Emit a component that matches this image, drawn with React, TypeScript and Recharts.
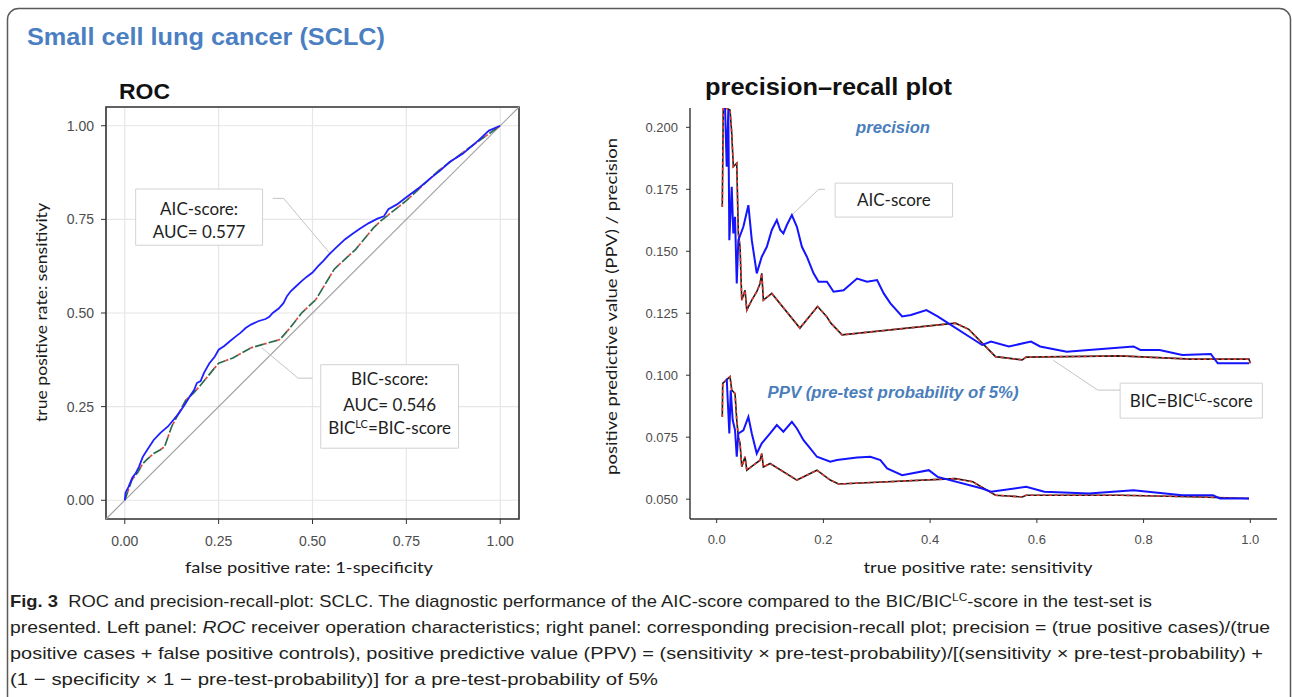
import React from 'react';
import { LineChart, Line, XAxis, YAxis, CartesianGrid, ReferenceLine, ReferenceArea } from 'recharts';

type P = [number, number];

// ---------- ROC panel ----------
const rocTicks = [0, 0.25, 0.5, 0.75, 1];
const aicRoc: P[] = [
  [0, 0], [0.002, 0.02], [0.01, 0.036], [0.02, 0.06], [0.029, 0.072], [0.038, 0.09], [0.048, 0.116],
  [0.06, 0.135], [0.077, 0.161], [0.095, 0.18], [0.115, 0.197], [0.13, 0.215], [0.144, 0.232],
  [0.16, 0.256], [0.173, 0.277], [0.185, 0.295], [0.192, 0.313], [0.202, 0.318], [0.211, 0.34],
  [0.225, 0.365], [0.24, 0.384], [0.25, 0.402], [0.265, 0.412], [0.279, 0.424], [0.295, 0.437],
  [0.308, 0.447], [0.322, 0.46], [0.336, 0.469], [0.355, 0.478], [0.375, 0.484], [0.385, 0.49],
  [0.394, 0.5], [0.41, 0.512], [0.423, 0.527], [0.432, 0.545], [0.442, 0.558], [0.457, 0.572],
  [0.471, 0.585], [0.485, 0.597], [0.5, 0.608], [0.515, 0.625], [0.529, 0.639], [0.543, 0.655],
  [0.558, 0.67], [0.572, 0.683], [0.587, 0.697], [0.605, 0.71], [0.625, 0.724], [0.65, 0.74],
  [0.673, 0.752], [0.69, 0.758], [0.702, 0.777], [0.725, 0.79], [0.75, 0.809], [0.785, 0.835],
  [0.817, 0.862], [0.84, 0.88], [0.865, 0.903], [0.9, 0.925], [0.942, 0.961], [0.97, 0.987], [1, 1],
];
const bicRoc: P[] = [
  [0, 0], [0.019, 0.054], [0.035, 0.075], [0.048, 0.098], [0.06, 0.11], [0.077, 0.125], [0.095, 0.135],
  [0.106, 0.143], [0.125, 0.197], [0.145, 0.235], [0.163, 0.268], [0.183, 0.286], [0.2, 0.305],
  [0.221, 0.331], [0.25, 0.366], [0.288, 0.38], [0.336, 0.407], [0.413, 0.429], [0.44, 0.46],
  [0.471, 0.5], [0.509, 0.536], [0.558, 0.617], [0.615, 0.67], [0.663, 0.728], [0.682, 0.746],
  [0.75, 0.8], [0.836, 0.88], [0.913, 0.938], [1, 1],
];

// ---------- precision-recall panel ----------
const prXTicks = [0, 0.2, 0.4, 0.6, 0.8, 1];
const prYTicks = [0.05, 0.075, 0.1, 0.125, 0.15, 0.175, 0.2];
const aicPrecision: P[] = [
  [0.0156, 0.2083], [0.0188, 0.1841], [0.0218, 0.207], [0.0237, 0.1545], [0.0282, 0.176], [0.0312, 0.1572],
  [0.0344, 0.1639], [0.0376, 0.137], [0.0406, 0.1545], [0.05, 0.1599], [0.0594, 0.1686], [0.0658, 0.1545],
  [0.0751, 0.1411], [0.0845, 0.1478], [0.094, 0.1518], [0.1033, 0.1586], [0.1127, 0.1626], [0.119, 0.1586],
  [0.125, 0.1572], [0.1315, 0.1606], [0.1409, 0.1646], [0.1503, 0.1599], [0.1597, 0.1518], [0.169, 0.1478],
  [0.1815, 0.1411], [0.1909, 0.1377], [0.2066, 0.1377], [0.219, 0.1337], [0.2378, 0.1343], [0.263, 0.139],
  [0.2818, 0.1377], [0.3006, 0.1384], [0.313, 0.133], [0.3256, 0.129], [0.3475, 0.1237], [0.364, 0.1243],
  [0.393, 0.1263], [0.414, 0.1237], [0.4975, 0.1122], [0.514, 0.1136], [0.5475, 0.1116], [0.589, 0.1136],
  [0.606, 0.1116], [0.656, 0.1095], [0.6975, 0.1102], [0.781, 0.1116], [0.794, 0.1102], [0.83, 0.1102],
  [0.8725, 0.1082], [0.926, 0.1086], [0.939, 0.1048], [0.9975, 0.1048],
];
const bicPrecision: P[] = [
  [0.0105, 0.168], [0.0124, 0.2083], [0.025, 0.207], [0.0282, 0.1976], [0.0312, 0.1841], [0.0376, 0.1855],
  [0.0406, 0.1572], [0.0438, 0.1518], [0.047, 0.1303], [0.0532, 0.1343], [0.0564, 0.1263], [0.0658, 0.1303],
  [0.0751, 0.1337], [0.0813, 0.137], [0.0845, 0.1411], [0.0875, 0.1303], [0.1033, 0.133], [0.156, 0.119],
  [0.189, 0.1277], [0.206, 0.1237], [0.214, 0.121], [0.235, 0.1163], [0.4475, 0.121], [0.4725, 0.1185],
  [0.5225, 0.1075], [0.5725, 0.1062], [0.58, 0.1073], [0.756, 0.1078], [0.889, 0.1065], [0.9975, 0.1065],
  [1, 0.1048],
];
const aicPpv: P[] = [
  [0.0188, 0.0987], [0.0237, 0.0765], [0.0263, 0.0939], [0.03, 0.0819], [0.0344, 0.0778], [0.0376, 0.0671],
  [0.0406, 0.0765], [0.05, 0.0778], [0.0594, 0.0832], [0.0658, 0.0765], [0.0751, 0.0684], [0.0845, 0.0725],
  [0.1001, 0.0765], [0.1127, 0.0799], [0.125, 0.0772], [0.1409, 0.0812], [0.1503, 0.0785], [0.1627, 0.0738],
  [0.1753, 0.0705], [0.1879, 0.0671], [0.2128, 0.0651], [0.2254, 0.0658], [0.263, 0.0668], [0.288, 0.0671],
  [0.3068, 0.0658], [0.3194, 0.0624], [0.3475, 0.0597], [0.3975, 0.0617], [0.414, 0.059], [0.4975, 0.0543],
  [0.514, 0.053], [0.58, 0.055], [0.614, 0.053], [0.6975, 0.0523], [0.781, 0.0536], [0.8725, 0.0516],
  [0.93, 0.0516], [0.943, 0.0503], [0.9975, 0.0503],
];
const bicPpv: P[] = [
  [0.0105, 0.0832], [0.0113, 0.0967], [0.025, 0.0994], [0.0282, 0.094], [0.0344, 0.0926], [0.0376, 0.0819],
  [0.0406, 0.0751], [0.0438, 0.0725], [0.047, 0.0631], [0.0532, 0.0671], [0.0564, 0.0617], [0.0688, 0.0637],
  [0.0813, 0.0657], [0.0845, 0.0684], [0.0875, 0.063], [0.1001, 0.0644], [0.1503, 0.0577], [0.1879, 0.0617],
  [0.2003, 0.0597], [0.2128, 0.0577], [0.2285, 0.0561], [0.4475, 0.0583], [0.48, 0.057], [0.5225, 0.0516],
  [0.5725, 0.0509], [0.58, 0.0516], [0.756, 0.0516], [0.889, 0.051], [0.9975, 0.0503],
];

const pts = (a: P[]) => a.map(([x, y]) => ({ x, y }));

const SANS = "'Liberation Sans', Arial, sans-serif";
const LATO = "Lato, 'Open Sans', sans-serif";
const TICK_STYLE = { fill: '#4d4d4d', fontSize: 14, fontFamily: SANS };

const boxText = (lines: { dy: number; content: React.ReactNode }[], fontSize = 17) => (props: any) => {
  const vb = props.viewBox || { x: 0, y: 0, width: 0, height: 0 };
  const cx = vb.x + vb.width / 2;
  return (
    <g>
      {lines.map((l, i) => (
        <text key={i} x={cx} y={vb.y + l.dy} textAnchor="middle" fontFamily={LATO} fontSize={fontSize} fill="#1e1e1e">
          {l.content}
        </text>
      ))}
    </g>
  );
};

const sup = (base: string, s: string, rest: string) => (
  <>
    {base}
    <tspan dy={-6} fontSize={11}>{s}</tspan>
    <tspan dy={6}>{rest}</tspan>
  </>
);

export default function App() {
  const leader = { stroke: '#c4c4c4', strokeWidth: 1 };
  return (
    <div style={{ position: 'absolute', left: 0, top: 0, width: 1292, height: 697, background: '#fff', overflow: 'hidden' }}>
      {/* ROC */}
      <div style={{ position: 'absolute', left: 36, top: 100 }}>
        <LineChart width={490} height={450} margin={{ top: 7, right: 7, bottom: 1, left: 0 }}>
          <CartesianGrid stroke="#e6e6e6" strokeWidth={1.2} />
          <XAxis type="number" dataKey="x" domain={[-0.05, 1.05]} ticks={rocTicks} allowDataOverflow
            tickFormatter={(v: number) => v.toFixed(2)} height={30} axisLine={false}
            tickLine={{ stroke: '#333' }} tickSize={5} tickMargin={12} tick={TICK_STYLE} />
          <YAxis type="number" dataKey="y" domain={[-0.05, 1.05]} ticks={rocTicks} allowDataOverflow
            tickFormatter={(v: number) => v.toFixed(2)} width={70} axisLine={false}
            tickLine={{ stroke: '#333' }} tickSize={5} tickMargin={7} tick={TICK_STYLE} />
          <ReferenceArea x1={-0.05} x2={1.05} y1={-0.05} y2={1.05} fill="none" fillOpacity={0} stroke="#333" strokeWidth={1.6} />
          <ReferenceLine segment={[{ x: -0.05, y: -0.05 }, { x: 1.05, y: 1.05 }]} stroke="#a3a3a3" strokeWidth={1.2} />
          <ReferenceLine segment={[{ x: 0.394, y: 0.806 }, { x: 0.423, y: 0.806 }]} {...leader} />
          <ReferenceLine segment={[{ x: 0.423, y: 0.806 }, { x: 0.548, y: 0.657 }]} {...leader} />
          <ReferenceLine segment={[{ x: 0.365, y: 0.407 }, { x: 0.4615, y: 0.326 }]} {...leader} />
          <ReferenceLine segment={[{ x: 0.4615, y: 0.326 }, { x: 0.5, y: 0.326 }]} {...leader} />
          <ReferenceArea x1={0.029} x2={0.367} y1={0.681} y2={0.831} fill="#fff" fillOpacity={1} stroke="#d2d2d2" strokeWidth={1}
            label={boxText([{ dy: 26, content: 'AIC-score:' }, { dy: 49, content: 'AUC= 0.577' }])} />
          <ReferenceArea x1={0.522} x2={0.889} y1={0.139} y2={0.362} fill="#fff" fillOpacity={1} stroke="#d2d2d2" strokeWidth={1}
            label={boxText([
              { dy: 20, content: 'BIC-score:' },
              { dy: 46, content: 'AUC= 0.546' },
              { dy: 69, content: sup('BIC', 'LC', '=BIC-score') },
            ])} />
          <Line data={pts(bicRoc)} dataKey="y" stroke="#2e6a4c" strokeWidth={1.7} strokeDasharray="9 5" dot={false} isAnimationActive={false} />
          <Line data={pts(bicRoc)} dataKey="y" stroke="#e3463d" strokeWidth={1.7} strokeDasharray="3 11" strokeDashoffset={-9} dot={false} isAnimationActive={false} />
          <Line data={pts(aicRoc)} dataKey="y" stroke="#1f1fff" strokeWidth={1.8} dot={false} isAnimationActive={false} />
        </LineChart>
      </div>

      {/* precision-recall */}
      <div style={{ position: 'absolute', left: 615, top: 100 }}>
        <LineChart width={670} height={450} margin={{ top: 8, right: 8, bottom: 1, left: 0 }}>
          <XAxis type="number" dataKey="x" domain={[-0.05, 1.05]} ticks={prXTicks} allowDataOverflow
            tickFormatter={(v: number) => v.toFixed(1)} height={30}
            axisLine={{ stroke: '#333', strokeWidth: 1.4 }} tickLine={{ stroke: '#333' }} tickSize={4} tickMargin={12}
            tick={{ ...TICK_STYLE, fontSize: 13 }} />
          <YAxis type="number" dataKey="y" domain={[0.042, 0.2078]} ticks={prYTicks} allowDataOverflow
            tickFormatter={(v: number) => v.toFixed(3)} width={75}
            axisLine={{ stroke: '#333', strokeWidth: 1.4 }} tickLine={{ stroke: '#333' }} tickSize={4} tickMargin={8}
            tick={{ ...TICK_STYLE, fontSize: 13 }} />
          <ReferenceLine segment={[{ x: 0.203, y: 0.175 }, { x: 0.191, y: 0.175 }]} {...leader} />
          <ReferenceLine segment={[{ x: 0.191, y: 0.175 }, { x: 0.141, y: 0.1646 }]} {...leader} />
          <ReferenceLine segment={[{ x: 0.631, y: 0.106 }, { x: 0.714, y: 0.094 }]} {...leader} />
          <ReferenceLine segment={[{ x: 0.714, y: 0.094 }, { x: 0.756, y: 0.094 }]} {...leader} />
          <ReferenceArea x1={0.222} x2={0.442} y1={0.1638} y2={0.1775} fill="#fff" fillOpacity={1} stroke="#d2d2d2" strokeWidth={1}
            label={boxText([{ dy: 23, content: 'AIC-score' }])} />
          <ReferenceArea x1={0.756} x2={1.0226} y1={0.0827} y2={0.0968} fill="#fff" fillOpacity={1} stroke="#d2d2d2" strokeWidth={1}
            label={boxText([{ dy: 24, content: sup('BIC=BIC', 'LC', '-score') }])} />
          <Line data={pts(bicPrecision)} dataKey="y" stroke="#1a1a1a" strokeWidth={1.6} dot={false} isAnimationActive={false} />
          <Line data={pts(bicPrecision)} dataKey="y" stroke="#e0392f" strokeWidth={1.6} strokeDasharray="3 3" dot={false} isAnimationActive={false} />
          <Line data={pts(bicPpv)} dataKey="y" stroke="#1a1a1a" strokeWidth={1.6} dot={false} isAnimationActive={false} />
          <Line data={pts(bicPpv)} dataKey="y" stroke="#e0392f" strokeWidth={1.6} strokeDasharray="3 3" dot={false} isAnimationActive={false} />
          <Line data={pts(aicPrecision)} dataKey="y" stroke="#1414ff" strokeWidth={2} dot={false} isAnimationActive={false} />
          <Line data={pts(aicPpv)} dataKey="y" stroke="#1414ff" strokeWidth={2} dot={false} isAnimationActive={false} />
        </LineChart>
      </div>

      {/* texts and frame */}
      <svg width={1292} height={697} style={{ position: 'absolute', left: 0, top: 0, pointerEvents: 'none' }}>
        <rect x={7.5} y={8.5} width={1283} height={720} rx={11} fill="none" stroke="#5a5a5a" strokeWidth={1.5} />
        <text x={27} y={45} fontFamily={SANS} fontWeight="bold" fontSize={23} fill="#4b7fc2" textLength={358} lengthAdjust="spacingAndGlyphs">
          Small cell lung cancer (SCLC)
        </text>
        <text x={119} y={99} fontFamily={SANS} fontWeight="bold" fontSize={22} fill="#111" textLength={51} lengthAdjust="spacingAndGlyphs">ROC</text>
        <text x={705} y={95} fontFamily={SANS} fontWeight="bold" fontSize={23} fill="#111" textLength={247} lengthAdjust="spacingAndGlyphs">precision–recall plot</text>

        <text x={309} y={573} textAnchor="middle" fontFamily={LATO} fontSize={15} fill="#1a1a1a" textLength={248} lengthAdjust="spacingAndGlyphs">false positive rate: 1-specificity</text>
        <text transform="translate(47,312.5) rotate(-90)" x={0} y={0} textAnchor="middle" fontFamily={LATO} fontSize={15} fill="#1a1a1a" textLength={219} lengthAdjust="spacingAndGlyphs">true positive rate: sensitivity</text>
        <text x={978} y={573} textAnchor="middle" fontFamily={LATO} fontSize={15.5} fill="#1a1a1a" textLength={229} lengthAdjust="spacingAndGlyphs">true positive rate: sensitivity</text>
        <text transform="translate(617,306.5) rotate(-90)" x={0} y={0} textAnchor="middle" fontFamily={LATO} fontSize={16} fill="#1a1a1a" textLength={337} lengthAdjust="spacingAndGlyphs">positive predictive value  (PPV) / precision</text>

        <text x={893} y={133} textAnchor="middle" fontFamily={SANS} fontWeight="bold" fontStyle="italic" fontSize={16} fill="#4a7ebb" textLength={74} lengthAdjust="spacingAndGlyphs">precision</text>
        <text x={893} y={398} textAnchor="middle" fontFamily={SANS} fontWeight="bold" fontStyle="italic" fontSize={16} fill="#4a7ebb" textLength={251} lengthAdjust="spacingAndGlyphs">PPV (pre-test probability of 5%)</text>

        <g fontFamily="'Liberation Sans Narrow', 'Liberation Sans', Arial, sans-serif" fontSize={17} fill="#231f20">
          <text x={10} y={607} textLength={1142} lengthAdjust="spacingAndGlyphs">
            <tspan fontWeight="bold">Fig. 3</tspan>{'\u00a0\u00a0'}ROC and precision-recall-plot: SCLC. The diagnostic performance of the AIC-score compared to the BIC/BIC<tspan dy={-6} fontSize={11}>LC</tspan><tspan dy={6}>-score in the test-set is</tspan>
          </text>
          <text x={10} y={633} textLength={1260} lengthAdjust="spacingAndGlyphs">
            presented. Left panel: <tspan fontStyle="italic">ROC</tspan> receiver operation characteristics; right panel: corresponding precision-recall plot; precision = (true positive cases)/(true
          </text>
          <text x={10} y={659} textLength={1253} lengthAdjust="spacingAndGlyphs">
            positive cases + false positive controls), positive predictive value (PPV) = (sensitivity × pre-test-probability)/[(sensitivity × pre-test-probability) +
          </text>
          <text x={10} y={685} textLength={648} lengthAdjust="spacingAndGlyphs">
            (1 − specificity × 1 − pre-test-probability)] for a pre-test-probability of 5%
          </text>
        </g>
      </svg>
    </div>
  );
}
